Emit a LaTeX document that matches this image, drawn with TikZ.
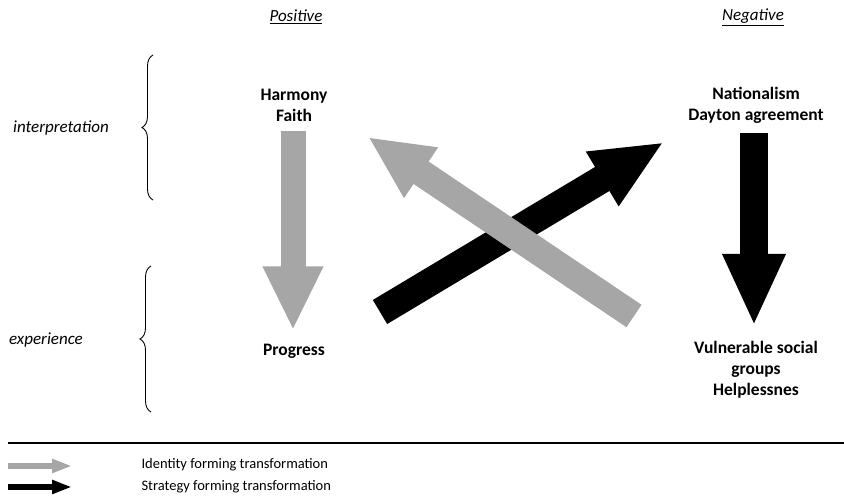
\documentclass[tikz,border=0pt]{standalone}
\usepackage{fontspec}
\setmainfont{Carlito}
\usetikzlibrary{arrows.meta,decorations.pathreplacing}

\begin{document}
\begin{tikzpicture}[x=1pt, y=-1pt,
    concept/.style={font=\fontsize{17.5}{21}\selectfont\bfseries, align=center},
    heading/.style={font=\fontsize{17}{19}\selectfont\itshape},
    level/.style={font=\fontsize{17}{19}\selectfont\itshape},
    legend/.style={font=\fontsize{14.5}{16}\selectfont, anchor=west},
    bracket/.style={decorate, decoration={brace, amplitude=11pt}, line width=0.9pt},
    identity/.style={draw=identityGrey, line width=25pt, -{Triangle[width=56pt,length=64pt]}},
    strategy/.style={draw=strategyBlack, line width=28pt, -{Triangle[width=58pt,length=72pt]}}]
    % Define colours
    \definecolor{identityGrey}{HTML}{A6A6A6}
    \definecolor{strategyBlack}{HTML}{000000}

    % Fix picture size
    \useasboundingbox (0,0) rectangle (844,500);

    % Column headings
    \node[heading] (pos) at (296,17) {\underline{Positive}};
    \node[heading] (neg) at (753,17) {\underline{Negative}};

    % Row labels and braces
    \node[level] (interp) at (61,128) {interpretation};
    \node[level] (exper) at (46,340) {experience};
    \draw[bracket] (153,200) -- (153,55);
    \draw[bracket] (151,412) -- (151,266);

    % Concepts
    \node[concept] (hf) at (294,105) {Harmony\\Faith};
    \node[concept] (nat) at (756,105) {Nationalism\\Dayton agreement};
    \node[concept] (prog) at (294,351) {Progress};
    \node[concept] (vul) at (756,370) {Vulnerable social\\groups\\Helplessnes};

    % Diagonal arrow ends
    \coordinate (gTail) at (634,316);
    \coordinate (gTip) at (368,137);
    \coordinate (bTail) at (380,312);
    \coordinate (bTip) at (664,142);

    % Draw transformations
    \draw[identity] ([xshift=-1pt,yshift=-6pt]hf.south) -- ([xshift=-1pt,yshift=10pt]prog.north);
    \draw[strategy] (bTail) -- (bTip);
    \draw[identity, line width=27pt] (gTail) -- (gTip);
    \draw[strategy] ([xshift=-2pt,yshift=-6pt]nat.south) -- ([xshift=-2pt,yshift=12pt]vul.north);

    % Draw legend
    \draw[line width=1.3pt] (8,443) -- (844,443);
    \coordinate (lgGrey) at (8,466);
    \coordinate (lgBlack) at (8,487);
    \node[legend] (lid) at (138,465) {Identity forming transformation};
    \node[legend] (lst) at (138,487) {Strategy forming transformation};
    \draw[draw=identityGrey, line width=6pt, -{Triangle[width=13pt,length=20pt]}] (lgGrey) -- ++(64,0);
    \draw[draw=strategyBlack, line width=6pt, -{Triangle[width=13pt,length=20pt]}] (lgBlack) -- ++(64,0);

\end{tikzpicture}
\end{document}
